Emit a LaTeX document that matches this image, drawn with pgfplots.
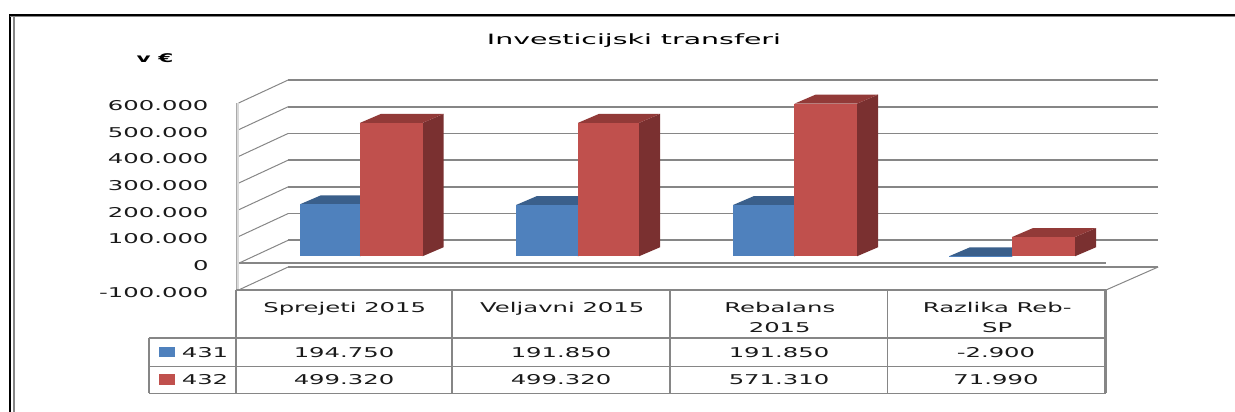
\documentclass[border=0pt]{standalone}
\usepackage{fontspec}
\setmainfont[FakeStretch=1.8]{DejaVu Sans}
\newfontfamily\titlefont[FakeStretch=2.0]{DejaVu Sans}
\usepackage{pgfplots}
\pgfplotsset{compat=1.18}
\definecolor{blueF}{HTML}{4F81BD}
\definecolor{blueT}{HTML}{3A5F8B}
\definecolor{blueS}{HTML}{2F4B6E}
\definecolor{redF}{HTML}{C0504D}
\definecolor{redT}{HTML}{923A38}
\definecolor{redS}{HTML}{7A3030}
\definecolor{gridc}{HTML}{868686}
\definecolor{textc}{HTML}{1A1A1A}

% bar in thousands: left x, right x, value, colours
\newcommand{\threedbar}[6]{%
  \pgfmathsetmacro{\xr}{#2+0.0966}%
  \pgfmathsetmacro{\xl}{#1+0.0966}%
  \pgfmathsetmacro{\bs}{26.217}%
  \pgfmathsetmacro{\tp}{#3+26.217}%
  \pgfmathsetmacro{\tf}{max(#3,0)+26.217}%
  \pgfmathsetmacro{\tb}{\tf+33.708}%
  \pgfmathsetmacro{\bb}{\bs+33.708}%
  \edef\temp{\noexpand\addplot[draw=none,fill=#6] coordinates {(#2,\bs) (\xr,\bb) (\xr,\tb) (#2,\tf)} --cycle;
    \noexpand\addplot[draw=none,fill=#5] coordinates {(#1,\tf) (#2,\tf) (\xr,\tb) (\xl,\tb)} --cycle;
    \noexpand\addplot[draw=none,fill=#4] coordinates {(#1,\bs) (#2,\bs) (#2,\tp) (#1,\tp)} --cycle;}%
  \temp}

\tikzset{pix/.style={x=1pt,y=-1pt,shift={(-236pt,290pt)}}}

\begin{document}
\begin{tikzpicture}
\path[pix,use as bounding box] (0,0) rectangle (1235,412);
\begin{axis}[
  at={(0pt,0pt)}, anchor=south west,
  scale only axis, width=870pt, height=187pt,
  xmin=0, xmax=4, ymin=-100, ymax=600,
  clip=false,
  axis line style={draw=none}, tick style={draw=none},
  ytick={-100,0,100,200,300,400,500,600},
  yticklabels={-100.000,0,100.000,200.000,300.000,400.000,500.000,600.000},
  yticklabel style={font=\fontsize{13.5}{14}\selectfont, text=textc, anchor=east, xshift=-24pt, yshift=-2.5pt},
  xtick={0.5,1.5,2.5,3.5},
  xticklabels={Sprejeti 2015,Veljavni 2015,Rebalans\\2015,Razlika Reb-\\SP},
  xticklabel style={font=\fontsize{13.5}{20}\selectfont, text=textc, align=center, anchor=north, yshift=-9pt},
]
% walls
\pgfplotsinvokeforeach{-100,0,100,200,300,400,500,600}{
  \addplot[gridc, line width=1.6pt] coordinates {(0.24,#1+86.142) (4.24,#1+86.142)};
  \addplot[gridc, line width=1pt] coordinates {(0.012,#1) (0.24,#1+86.142)};
}
\addplot[gridc, line width=1.6pt] coordinates {(0,0) (4,0)};
\addplot[gridc, line width=1pt] coordinates {(4,-100) (4.24,-13.858)};
\addplot[black!15, line width=3pt] coordinates {(0.007,-100) (0.007,600)};
\addplot[gridc!70, line width=0.6pt] coordinates {(0,-100) (0,600)};
% bars
\threedbar{0.2943}{0.5701}{194.750}{blueF}{blueT}{blueS}
\threedbar{0.5701}{0.8575}{499.320}{redF}{redT}{redS}
\threedbar{1.2874}{1.5724}{191.850}{blueF}{blueT}{blueS}
\threedbar{1.5724}{1.8529}{499.320}{redF}{redT}{redS}
\threedbar{2.2851}{2.5678}{191.850}{blueF}{blueT}{blueS}
\threedbar{2.5678}{2.8552}{571.310}{redF}{redT}{redS}
\threedbar{3.2782}{3.5678}{-2.900}{blueF}{blueT}{blueS}
\threedbar{3.5678}{3.8575}{71.990}{redF}{redT}{redS}
\end{axis}
\begin{scope}[pix]
% frame
\draw[black, line width=2pt] (1235,15) -- (10,15) -- (10,412);
\draw[gridc, line width=2pt] (14,16) -- (14,412);
\draw[gridc, line width=1pt] (10,16.5) -- (1235,16.5);
% data table
\draw[gridc, line width=1.8pt] (236,290) -- (1106,290);
\draw[gridc, line width=1.8pt] (149,338) -- (1106,338);
\draw[gridc, line width=1.4pt] (149,366.5) -- (1106,366.5);
\draw[gridc, line width=1.8pt] (149,393.5) -- (1106,393.5);
\draw[gridc, line width=2pt] (149,338) -- (149,393.5);
\draw[gridc, line width=1.8pt] (236,290) -- (236,393.5);
\draw[gridc, line width=1.8pt] (452,290) -- (452,393.5);
\draw[gridc, line width=1.8pt] (670,290) -- (670,393.5);
\draw[gridc, line width=1.8pt] (887.5,290) -- (887.5,393.5);
\draw[gridc, line width=2.5pt] (1105.5,290) -- (1105.5,393.5);
\fill[blueF] (159,347) rectangle (175,357);
\fill[redF] (159,374) rectangle (175,385);
\begin{scope}[every node/.style={font=\fontsize{13.5}{14}\selectfont, text=textc, inner sep=0pt}]
\node at (205,352.5) {431};
\node at (205,380) {432};
\node at (344,352.5) {194.750};
\node at (344,380) {499.320};
\node at (561,352.5) {191.850};
\node at (561,380) {499.320};
\node at (779,352.5) {191.850};
\node at (779,380) {571.310};
\node at (996,352.5) {-2.900};
\node at (996,380) {71.990};
\node[text=black, font=\fontsize{14.2}{16}\titlefont] at (634,41) {Investicijski transferi};
\node[text=black, font=\fontsize{12}{14}\selectfont\bfseries] at (155,58.5) {v €};
\end{scope}
\end{scope}
\end{tikzpicture}
\end{document}
